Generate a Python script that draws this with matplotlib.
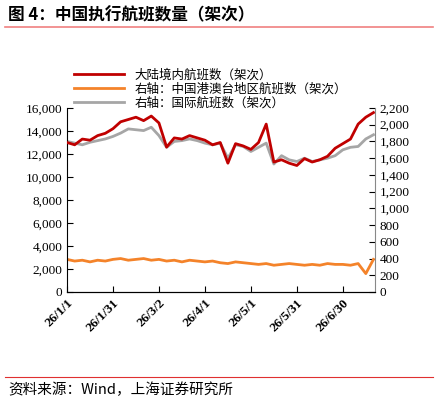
import numpy as np
import matplotlib.pyplot as plt
import matplotlib.dates as mdates
import datetime as dt

plt.rcParams['font.family'] = ['Liberation Serif', 'Noto Sans CJK SC']

# sampled every 5 days from 2026-01-01
domestic = [13000, 12800, 13300, 13200, 13600, 13800, 14200, 14800, 15000, 15200,
            14900, 15300, 14700, 12600, 13400, 13300, 13600, 13400, 13200, 12800,
            13000, 11200, 12900, 12700, 12400, 13000, 14600, 11300, 11500, 11200,
            11000, 11600, 11300, 11500, 11800, 12500, 12900, 13300, 14600, 15200, 15600]
hk_tw = [390, 370, 380, 360, 380, 370, 390, 400, 380, 390, 400, 380, 390, 370, 380,
         360, 380, 370, 360, 370, 350, 340, 360, 350, 340, 330, 340, 320, 330, 340,
         330, 320, 330, 320, 340, 330, 330, 320, 340, 220, 390]
intl = [1800, 1780, 1760, 1790, 1810, 1830, 1860, 1900, 1950, 1940, 1930, 1970, 1870,
        1730, 1800, 1810, 1830, 1810, 1780, 1760, 1780, 1600, 1760, 1740, 1680, 1730,
        1780, 1530, 1630, 1580, 1560, 1600, 1560, 1580, 1600, 1630, 1700, 1730, 1740,
        1830, 1880]
start = dt.date(2026, 1, 1)
dates = [start + dt.timedelta(days=5 * i) for i in range(len(domestic))]
tick_dates = [start + dt.timedelta(days=30 * i) for i in range(7)]
tick_labels = ['26/1/1', '26/1/31', '26/3/2', '26/4/1', '26/5/1', '26/5/31', '26/6/30']

fig = plt.figure(figsize=(4.39, 4.05), dpi=100)
ax = fig.add_axes([67 / 439, 1 - 292 / 405, (375 - 67) / 439, (292 - 108) / 405])
ax2 = ax.twinx()

l1, = ax.plot(dates, domestic, color='#c00000', lw=2, zorder=3)
l2, = ax2.plot(dates, hk_tw, color='#f4832a', lw=2)
l3, = ax2.plot(dates, intl, color='#a6a6a6', lw=2)
ax.set_zorder(ax2.get_zorder() + 1)
ax.patch.set_visible(False)

ax.set_ylim(0, 16000)
ax.set_yticks(range(0, 16001, 2000))
ax.set_yticklabels([f'{v:,}' for v in range(0, 16001, 2000)], fontsize=9.5)
ax2.set_ylim(0, 2200)
ax2.set_yticks(range(0, 2201, 200))
ax2.set_yticklabels([f'{v:,}' for v in range(0, 2201, 200)], fontsize=9.5)
ax.set_xlim(start, start + dt.timedelta(days=201))
ax.set_xticks(tick_dates)
ax.set_xticklabels(tick_labels, rotation=45, ha='right', rotation_mode='anchor',
                   fontsize=9.5, fontweight='bold')
for a in (ax, ax2):
    a.tick_params(direction='in', length=4)
    a.spines['top'].set_visible(False)
ax.spines['right'].set_visible(False)
ax2.spines['left'].set_visible(False)
ax2.spines['right'].set_color('#888888')

fig.legend([l1, l2, l3], ['大陆境内航班数（架次）', '右轴：中国港澳台地区航班数（架次）', '右轴：国际航班数（架次）'],
           loc='upper left', bbox_to_anchor=(68 / 439, 1 - 62 / 405), frameon=False,
           prop={'family': ['Noto Sans CJK SC'], 'size': 9}, handlelength=4,
           labelspacing=0.1, borderpad=0)

fig.text(8 / 439, 1 - 15 / 405, '图 4：中国执行航班数量（架次）', fontsize=12, fontweight='bold',
         va='center', family=['Noto Sans CJK SC'])
fig.add_artist(plt.Line2D([5 / 439, 433 / 439], [1 - 27 / 405] * 2, color='#f08080', lw=1.2))
fig.add_artist(plt.Line2D([5 / 439, 433 / 439], [1 - 377 / 405] * 2, color='#e03030', lw=0.8))
fig.text(8 / 439, 1 - 390 / 405, '资料来源：Wind，上海证券研究所', fontsize=10.5, style='italic',
         va='center', family=['Noto Sans CJK SC'])

fig.savefig('out.png', dpi=100)
